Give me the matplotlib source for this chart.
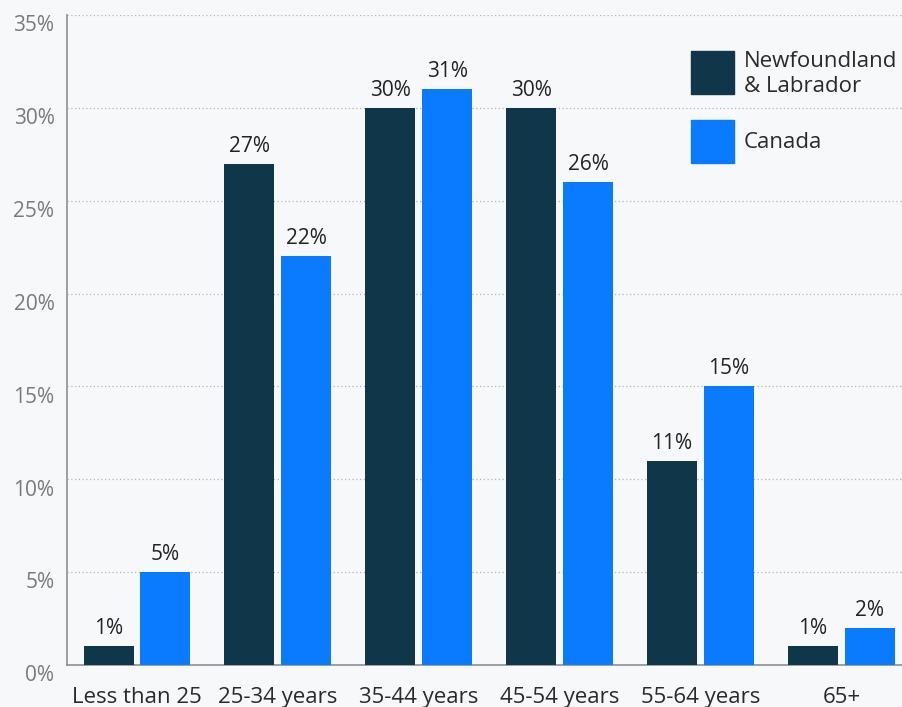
import matplotlib.pyplot as plt
import matplotlib.transforms as mtransforms
from matplotlib.patches import Rectangle
import numpy as np

###############################################################################
# DATA

categories = ['Less than 25', '25-34 years', '35-44 years', '45-54 years',
              '55-64 years', '65+']
nl_values = [1, 27, 30, 30, 11, 1]
canada_values = [5, 22, 31, 26, 15, 2]
series_names = ['Newfoundland\n& Labrador', 'Canada']
y_ticks = [0, 5, 10, 15, 20, 25, 30, 35]

###############################################################################
# STYLE

BG = '#f7f8fa'
NL_COLOR = '#0f3649'
CA_COLOR = '#0a7aff'
FONT = ['Open Sans', 'DejaVu Sans']

plt.rcParams['font.family'] = FONT

fig = plt.figure(figsize=(9.02, 7.07), dpi=100, facecolor=BG)
ax = fig.add_axes([67 / 902, 42 / 707, 835 / 902, 650 / 707])
ax.set_facecolor(BG)

x = np.arange(len(categories))
width = 0.355
offset = 0.202

bars_nl = ax.bar(x - offset, nl_values, width, color=NL_COLOR, zorder=3)
bars_ca = ax.bar(x + offset, canada_values, width, color=CA_COLOR, zorder=3)

for bars, vals in ((bars_nl, nl_values), (bars_ca, canada_values)):
    for b, v in zip(bars, vals):
        ax.annotate(f'{v}%', (b.get_x() + b.get_width() / 2, v),
                    xytext=(0, 5), textcoords='offset points',
                    ha='center', va='bottom', fontsize=15, color='#222222')

ax.set_xlim(-0.497, 5.43)
ax.set_ylim(0, 35)
ax.set_yticks(y_ticks)
ax.set_yticklabels([f'{t}%' for t in y_ticks])
ax.set_xticks(x)
ax.set_xticklabels(categories)

ax.tick_params(axis='y', length=0, pad=9, labelsize=15, labelcolor='#7a7a7a')
ax.tick_params(axis='x', length=0, pad=16, labelsize=16, labelcolor='#2a2a2a')

# shift y labels down a touch, they sit just below their gridline
shift = mtransforms.ScaledTranslation(0, -6 / 72, fig.dpi_scale_trans)
for lab in ax.get_yticklabels():
    lab.set_transform(lab.get_transform() + shift)

ax.yaxis.grid(True, linestyle=(0, (1, 2)), color='#b5b5b5', linewidth=0.9, zorder=0)

for s in ['top', 'right']:
    ax.spines[s].set_visible(False)
ax.spines['left'].set_color('#9aa0a6')
ax.spines['bottom'].set_color('#8a9096')
ax.spines['left'].set_linewidth(1.4)
ax.spines['bottom'].set_linewidth(1.2)

# legend squares and labels in pixel-based figure coords
W, H = 902, 707
for i, (name, col) in enumerate(zip(series_names, [NL_COLOR, CA_COLOR])):
    y0 = [51, 120][i]
    fig.patches.append(Rectangle((691 / W, 1 - (y0 + 43) / H), 43 / W, 43 / H,
                                 transform=fig.transFigure, color=col, zorder=5))
    fig.text(744 / W, 1 - (y0 + 23) / H, name, ha='left', va='center',
             fontsize=16, color='#2a2a2a', linespacing=1.25)

fig.savefig('out.png', dpi=100, facecolor=BG)
